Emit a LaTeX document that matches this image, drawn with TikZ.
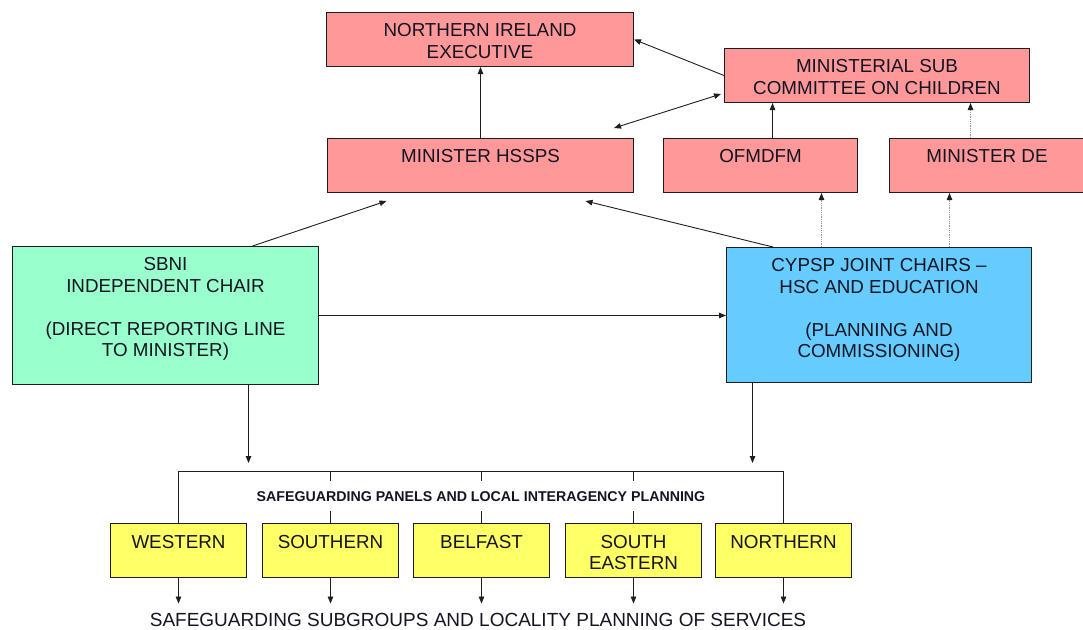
\documentclass[tikz,border=0pt]{standalone}
\usepackage{fontspec}
\setmainfont{Liberation Sans}
\usetikzlibrary{arrows.meta}
\definecolor{pinkf}{RGB}{255,153,153}
\definecolor{greenf}{RGB}{153,255,204}
\definecolor{bluef}{RGB}{102,204,255}
\definecolor{yellowf}{RGB}{255,255,102}
\definecolor{linec}{RGB}{30,30,30}
\definecolor{dotc}{RGB}{150,150,150}
\definecolor{textc}{RGB}{20,20,35}
\begin{document}
\begin{tikzpicture}[x=1pt,y=-1pt,
  box/.style n args={2}{draw=linec, line width=1pt, anchor=north west, inner sep=0pt,
      minimum width=#1pt, minimum height=#2pt},
  txt/.style={anchor=north, inner sep=0pt, align=center, text=textc,
      font=\fontsize{18.8}{21.5}\selectfont},
  tip/.style={-{Triangle[length=7pt,width=5.5pt,color=linec]}},
  arr/.style={draw=linec, line width=0.9pt, tip},
  dots/.style={draw=dotc, line width=0.8pt, densely dotted, tip},
  brk/.style={draw=linec, line width=0.9pt}
]
\useasboundingbox (0,0) rectangle (1083,629);

% top boxes
\node[box={307}{54}, fill=pinkf] (nie) at (326,12) {};
\node[txt] (nieT) at ([yshift=-11.5pt]nie.north) {NORTHERN IRELAND\\EXECUTIVE};
\node[box={305}{54}, fill=pinkf] (msc) at (724,48) {};
\node[txt] (mscT) at ([yshift=-11.5pt]msc.north) {MINISTERIAL SUB\\COMMITTEE ON CHILDREN};
\node[box={306}{54}, fill=pinkf] (hss) at (327,138) {};
\node[txt] (hssT) at ([yshift=-11.5pt]hss.north) {MINISTER HSSPS};
\node[box={194}{54}, fill=pinkf] (ofm) at (663,138) {};
\node[txt] (ofmT) at ([yshift=-11.5pt]ofm.north) {OFMDFM};
\node[box={195}{54}, fill=pinkf] (mde) at (889,138) {};
\node[txt] (mdeT) at ([yshift=-11.5pt]mde.north) {MINISTER DE};

% middle boxes
\node[box={306}{138}, fill=greenf] (sbni) at (12,246) {};
\node[txt] (sbniT) at ([yshift=-11.5pt]sbni.north) {SBNI\\INDEPENDENT CHAIR\\[21.5pt](DIRECT REPORTING LINE\\TO MINISTER)};
\node[box={305}{135}, fill=bluef] (cyp) at (726,247) {};
\node[txt] (cypT) at ([yshift=-11.5pt]cyp.north) {CYPSP JOINT CHAIRS –\\HSC AND EDUCATION\\[21.5pt](PLANNING AND\\COMMISSIONING)};

% yellow boxes
\node[box={136}{54}, fill=yellowf] (wes) at (110,523) {};
\node[txt] (wesT) at ([yshift=-12pt]wes.north) {WESTERN};
\node[box={136}{54}, fill=yellowf] (sou) at (262,523) {};
\node[txt] (souT) at ([yshift=-12pt]sou.north) {SOUTHERN};
\node[box={136}{54}, fill=yellowf] (bel) at (413,523) {};
\node[txt] (belT) at ([yshift=-12pt]bel.north) {BELFAST};
\node[box={136}{54}, fill=yellowf] (sea) at (565,523) {};
\node[txt] (seaT) at ([yshift=-12pt]sea.north) {SOUTH\\EASTERN};
\node[box={136}{54}, fill=yellowf] (nor) at (715,523) {};
\node[txt] (norT) at ([yshift=-12pt]nor.north) {NORTHERN};

% labels
\node[anchor=base, inner sep=0pt, text=textc, font=\fontsize{14.2}{16}\selectfont\bfseries] (pan) at (481,501) {SAFEGUARDING PANELS AND LOCAL INTERAGENCY PLANNING};
\node[anchor=base, inner sep=0pt, text=textc, font=\fontsize{19}{21.5}\selectfont] (bt) at (478,626) {SAFEGUARDING SUBGROUPS AND LOCALITY PLANNING OF SERVICES};

% top connectors
\draw[arr] (hss.north) -- (hss.north |- nie.south);
\draw[arr] (msc.west) -- (nie.east);
\coordinate (d1) at (721,94);
\coordinate (d2) at (614,128);
\draw[draw=linec, line width=0.9pt, {Triangle[length=7pt,width=5.5pt]}-{Triangle[length=7pt,width=5.5pt]}] (d2) -- (d1);
\draw[arr] ([xshift=12pt]ofm.north) -- ([xshift=12pt]ofm.north |- msc.south);
\draw[dots] ([xshift=-16.5pt]mde.north) -- ([xshift=-16.5pt]mde.north |- msc.south);
\draw[dots] ([xshift=-57.5pt]cyp.north) -- ([xshift=-57.5pt]cyp.north |- ofm.south);
\draw[dots] ([xshift=70.5pt]cyp.north) -- ([xshift=70.5pt]cyp.north |- mde.south);
\draw[arr] ([xshift=87pt]sbni.north) -- ([xshift=-94pt,yshift=-8pt]hss.south);
\draw[arr] ([xshift=-106pt]cyp.north) -- ([xshift=105pt,yshift=-8pt]hss.south);
\draw[arr] (sbni.east) -- (sbni.east -| cyp.west);

% bracket
\coordinate (br) at (0,471);
\draw[arr, shorten >=8pt] ([xshift=83pt]sbni.south) -- ([xshift=83pt]sbni.south |- br);
\draw[arr, shorten >=8pt] ([xshift=-126.5pt]cyp.south) -- ([xshift=-126.5pt]cyp.south |- br);
\draw[brk] (wes.north) -- (wes.north |- br) -- (nor.north |- br) -- (nor.north);
\foreach \b in {sou,bel,sea}{
  \draw[brk] (\b.north |- br) -- ++(0,10);
  \draw[brk] (\b.north) -- ++(0,-12.5);
}
\foreach \b in {wes,sou,bel,sea,nor}{
  \draw[arr, shorten >=9pt] (\b.south) -- (\b.south |- bt.north);
}
\end{tikzpicture}
\end{document}
